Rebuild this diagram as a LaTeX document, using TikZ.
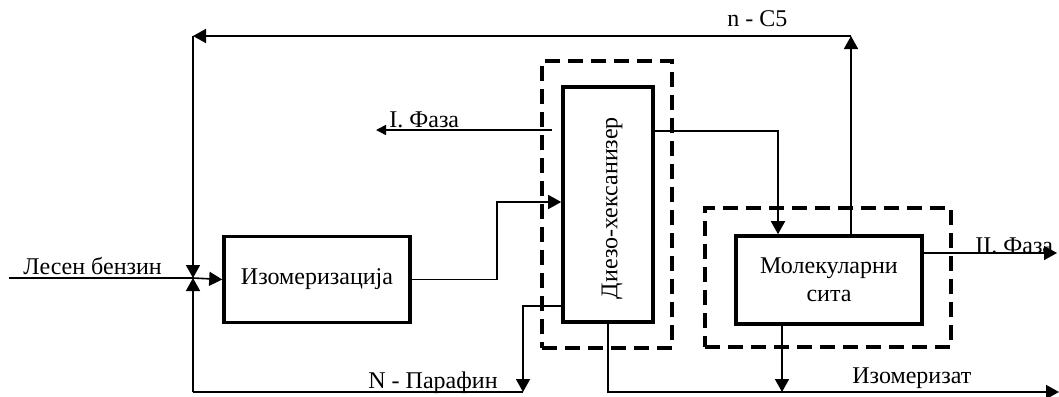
\documentclass[tikz,border=0pt]{standalone}
\usepackage{fontspec}
\setmainfont{Liberation Serif}
\usetikzlibrary{positioning,arrows.meta}

\begin{document}
\begin{tikzpicture}[
    x=0.5pt, y=-0.5pt,
    font=\fontsize{12}{14}\selectfont,
    >={Triangle[length=6.5pt,width=7pt]},
    box/.style={rectangle, draw, line width=1.8pt, minimum width=93pt, minimum height=43pt, align=center, inner sep=0pt},
    unit/.style={rectangle, draw, line width=1.7pt, dash pattern=on 7.5pt off 4pt},
    flow/.style={line width=0.8pt},
    lbl/.style={anchor=base west, inner sep=0pt},
]
\useasboundingbox (0,0) rectangle (1059,396);

% Dashed units
\node[unit, minimum width=65pt, minimum height=143.5pt] (dunit) at (607,204.5) {};
\node[unit, minimum width=123pt, minimum height=69.5pt] (munit) at (828,277.5) {};

% Process blocks
\node[box] (iso) at (317,279.5) {Изомеризација};
\node[box, minimum width=45pt, minimum height=117.5pt] (diezo) at (608,204.5) {};
\node[rotate=90] (diezotxt) at (612,208) {Диезо-хексанизер};
\node[box, minimum height=44pt] (mol) at (829,280) {Молекуларни\\сита};

% Helper points
\coordinate (in) at (9,278);
\coordinate (jn) at (193,278);
\coordinate (tl) at (193,36);
\coordinate (tr) at (851,36);
\coordinate (bl) at (193,392);
\coordinate (k1) at (497,202);
\coordinate (k2) at (778,131);
\coordinate (k3) at (523,306);
\coordinate (np) at (523,392);
\coordinate (f1a) at (552,130);
\coordinate (f1b) at (376,130);
\coordinate (f2) at (1057,253);
\coordinate (iz) at (1059,392);
\coordinate (mo) at (782,392);

% Feed and recycle
\draw[flow] (in) -- (jn);
\draw[flow,->] (jn) -- (iso.west);
\draw[flow,->] (mol.north -| tr) -- (tr);
\draw[flow,->] (tr) -- (tl);
\draw[flow,->] (tl) -- (jn);
\draw[flow,->] (bl) -- (jn);
\draw[flow] (np) -- (bl);

% Streams
\draw[flow,->] (iso.east) -| (k1) -- (k1 -| diezo.west);
\draw[flow,-{Triangle[length=5pt,width=5pt]}] (f1a) -- (f1b);
\draw[flow,->] (diezo.east |- k2) -- (k2) -- (k2 |- mol.north);
\draw[flow,->] (diezo.west |- k3) -- (k3) -- (np);
\draw[flow,->] (mol.east |- f2) -- (f2);
\draw[flow,->] (diezo.south) |- (iz);
\draw[flow,->] (mol.south -| mo) -- (mo);

% Labels
\node[lbl] (lin) at (23,274) {Лесен бензин};
\node[lbl] (lf1) at (389,127) {I. Фаза};
\node[lbl] (lc5) at (727,26) {n - C5};
\node[lbl] (lf2) at (975,253) {II. Фаза};
\node[lbl] (lnp) at (368,388) {N - Парафин};
\node[lbl] (liz) at (852,383) {Изомеризат};

\end{tikzpicture}
\end{document}
